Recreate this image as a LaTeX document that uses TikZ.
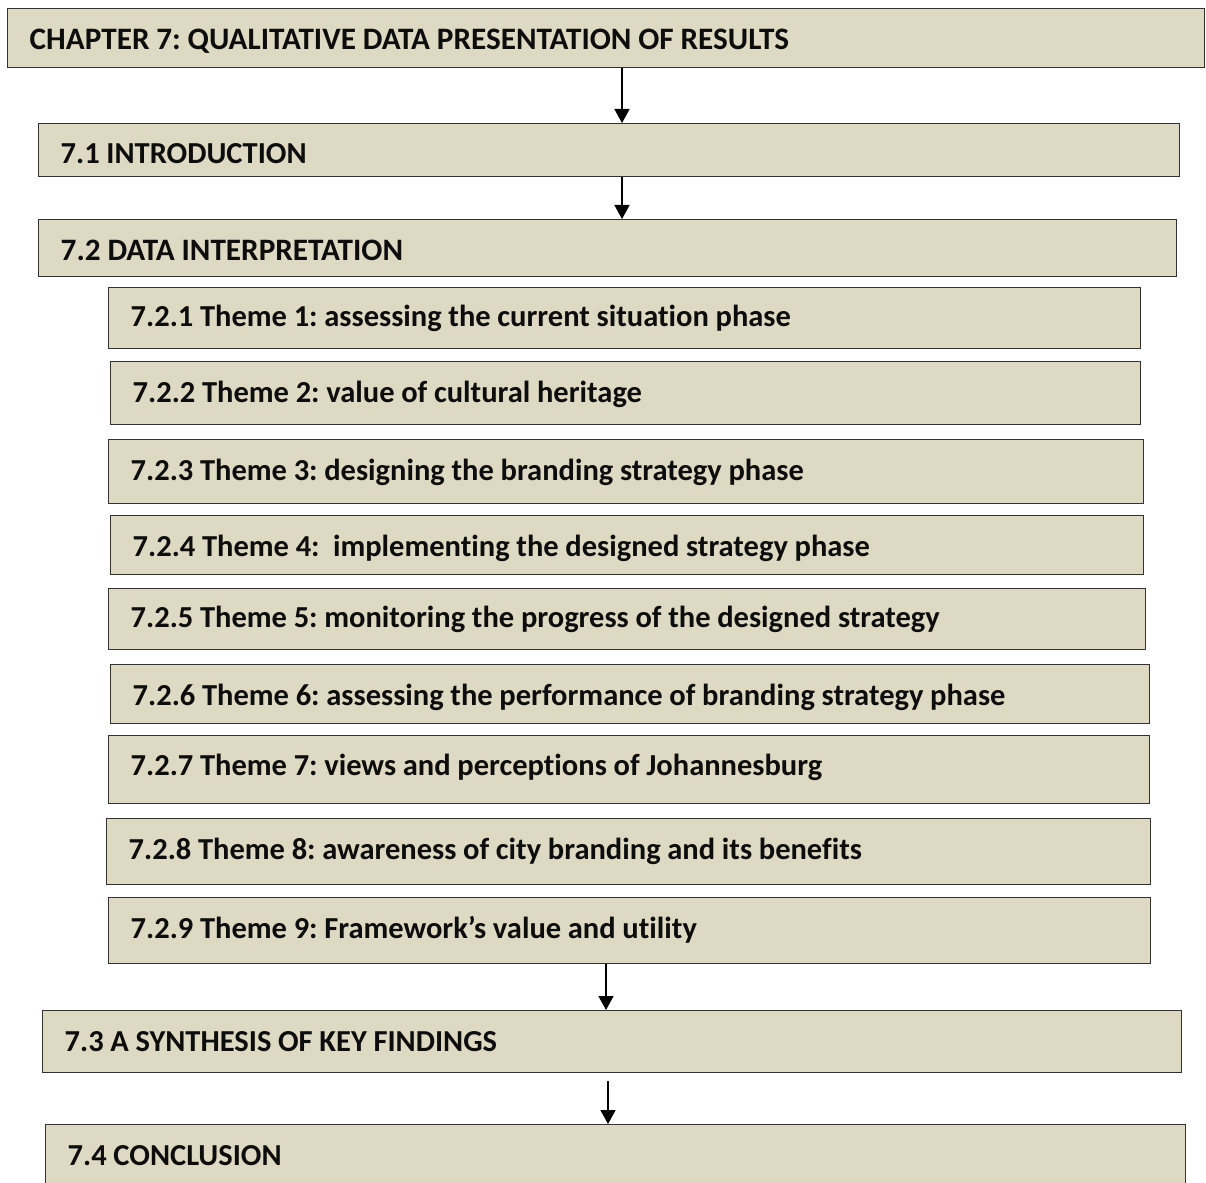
\documentclass[tikz,border=0pt]{standalone}
\usepackage{fontspec}
\setmainfont{Carlito}[Ligatures=NoCommon]
\usetikzlibrary{arrows.meta}
\definecolor{boxfill}{HTML}{DDD9C3}
\definecolor{boxline}{HTML}{333333}
\frenchspacing
\tikzset{
  x=1pt, y=-1pt,
  box/.style={draw=boxline, fill=boxfill, line width=1.4pt, rectangle,
    anchor=north west, inner xsep=22pt, inner ysep=0pt, align=left,
    font=\bfseries\fontsize{30.5}{31}\selectfont,
    text=black!95, text depth=0pt, text height=19pt},
  headbox/.style={font=\bfseries\fontsize{31.2}{32}\selectfont},
  arr/.style={draw=black, line width=1.5pt, -{Triangle[width=15pt,length=14pt]}}
}
% box at (left,top) with width w, height h; #6 sets the text's vertical place
\newcommand{\chbox}[8][]{%
  \node[box, #1, text height=#7, minimum width=#4pt, minimum height=#5pt,
        text width=#4pt-44pt] (#6) at (#2,#3) {\spaceskip=0.22em\relax #8};}
\begin{document}
\begin{tikzpicture}
\useasboundingbox (0,0) rectangle (1206,1182);
\chbox[headbox]{7}{8}{1197}{59}{ch}{23pt}{CHAPTER 7: QUALITATIVE DATA PRESENTATION OF RESULTS}
\chbox{38}{123}{1141}{53}{intro}{27pt}{7.1 INTRODUCTION}
\chbox[headbox]{38}{219}{1138}{57}{data}{24pt}{7.2 DATA INTERPRETATION}
\chbox{108}{287}{1032}{61}{t1}{16pt}{7.2.1 Theme 1: assessing the current situation phase}
\chbox{110}{361}{1030}{63}{t2}{19pt}{7.2.2 Theme 2: value of cultural heritage}
\chbox{108}{439}{1035}{64}{t3}{17pt}{7.2.3 Theme 3: designing the branding strategy phase}
\chbox{110}{515}{1033}{59}{t4}{22pt}{7.2.4 Theme 4: \ implementing the designed strategy phase}
\chbox{108}{588}{1037}{61}{t5}{16pt}{7.2.5 Theme 5: monitoring the progress of the designed strategy}
\chbox{110}{664}{1039}{59}{t6}{22pt}{7.2.6 Theme 6: assessing the performance of branding strategy phase}
\chbox{108}{735}{1041}{68}{t7}{11pt}{7.2.7 Theme 7: views and perceptions of Johannesburg}
\chbox{106}{818}{1044}{66}{t8}{15pt}{7.2.8 Theme 8: awareness of city branding and its benefits}
\chbox{108}{897}{1042}{66}{t9}{15pt}{7.2.9 Theme 9: Framework’s value and utility}
\chbox{42}{1010}{1139}{62}{syn}{20pt}{7.3 A SYNTHESIS OF KEY FINDINGS}
\chbox{45}{1124}{1140}{66}{concl}{15pt}{7.4 CONCLUSION}
% connectors
\coordinate (c1) at (622,0);
\coordinate (c2) at (606,0);
\coordinate (c3) at (608,1081);
\draw[arr] (c1 |- ch.south) -- (c1 |- intro.north);
\draw[arr] (c1 |- intro.south) -- (c1 |- data.north);
\draw[arr] (c2 |- t9.south) -- (c2 |- syn.north);
\draw[arr] (c3) -- (c3 |- concl.north);
\end{tikzpicture}
\end{document}
